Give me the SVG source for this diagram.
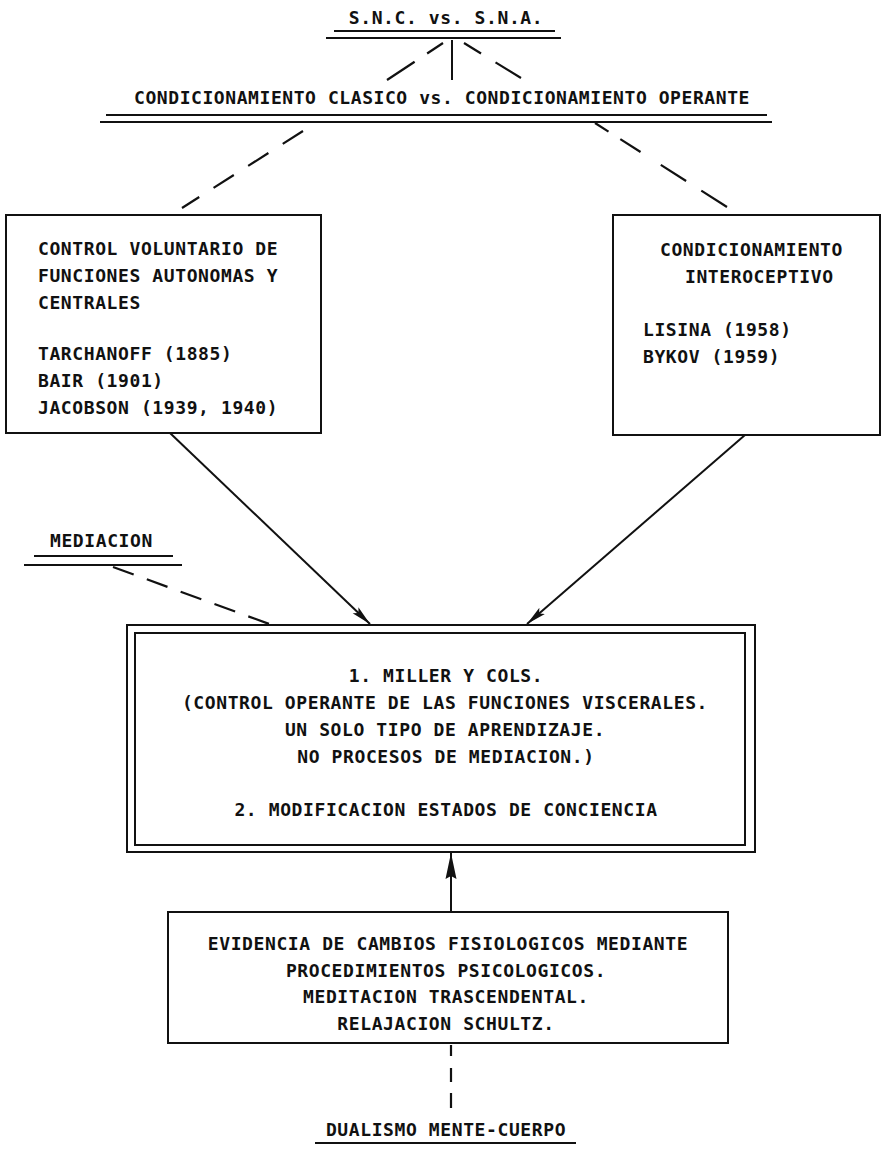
<svg xmlns="http://www.w3.org/2000/svg" width="882" height="1150" viewBox="0 0 882 1150">
<style>
text{font-family:"DejaVu Sans Mono","Liberation Mono",monospace;font-weight:bold;font-size:18px;fill:#111;letter-spacing:0.6px}
.c{text-anchor:middle}
.box{fill:none;stroke:#111;stroke-width:2}
.ul{stroke:#111;stroke-width:2}
.sol{stroke:#111;stroke-width:2;fill:none}
.dash{stroke:#111;stroke-width:2.2;fill:none}
</style>
<defs>
<marker id="ah" markerUnits="userSpaceOnUse" markerWidth="20" markerHeight="10" refX="20" refY="5" orient="auto">
<path d="M0,0.8 L20,5 L0,9.2 L4,5 z" fill="#111"/>
</marker>
<marker id="ahUp" markerUnits="userSpaceOnUse" markerWidth="26" markerHeight="12" refX="26" refY="6" orient="auto">
<path d="M0,0.5 L26,6 L0,11.5 L3,6 z" fill="#111"/>
</marker>
</defs>
<rect width="882" height="1150" fill="#fff"/>

<g id="connectors">
<line class="sol" x1="452" y1="40" x2="452" y2="80"/>
<line class="dash" x1="443" y1="43" x2="387" y2="80" stroke-dasharray="19 15 40"/>
<line class="dash" x1="464" y1="43" x2="521" y2="78" stroke-dasharray="20 17 40"/>
<line class="dash" x1="303" y1="131" x2="182" y2="208" stroke-dasharray="24 17"/>
<line class="dash" x1="595" y1="123" x2="727" y2="207" stroke-dasharray="16 14 24 24 30 18 40"/>
<line class="sol" x1="170" y1="433" x2="370" y2="624" marker-end="url(#ah)"/>
<line class="sol" x1="745" y1="435" x2="527" y2="624" marker-end="url(#ah)"/>
<line class="dash" x1="113" y1="567" x2="272" y2="625" stroke-dasharray="22 14"/>
<line class="sol" x1="451" y1="912" x2="451" y2="853" marker-end="url(#ahUp)"/>
<line class="dash" x1="451" y1="1045" x2="451" y2="1110" stroke-dasharray="11 12 14 11 15"/>
</g>

<g id="header-snc">
<text class="c" x="446" y="24">S.N.C. vs. S.N.A.</text>
<line class="ul" x1="334" y1="31" x2="555" y2="31"/>
<line class="ul" x1="326" y1="38" x2="561" y2="38"/>
</g>

<g id="header-condicionamiento">
<text x="134" y="104" textLength="616" lengthAdjust="spacing">CONDICIONAMIENTO CLASICO vs. CONDICIONAMIENTO OPERANTE</text>
<line class="ul" x1="106" y1="115" x2="767" y2="115"/>
<line class="ul" x1="100" y1="122" x2="772" y2="122"/>
</g>

<g id="box-control-voluntario">
<rect class="box" x="6" y="215" width="315" height="218"/>
<text x="38" y="255">CONTROL VOLUNTARIO DE</text>
<text x="38" y="282">FUNCIONES AUTONOMAS Y</text>
<text x="38" y="309">CENTRALES</text>
<text x="38" y="360">TARCHANOFF (1885)</text>
<text x="38" y="387">BAIR (1901)</text>
<text x="38" y="414">JACOBSON (1939, 1940)</text>
</g>

<g id="box-interoceptivo">
<rect class="box" x="613" y="215" width="267" height="220"/>
<text x="660" y="256">CONDICIONAMIENTO</text>
<text x="685" y="283">INTEROCEPTIVO</text>
<text x="643" y="336">LISINA (1958)</text>
<text x="643" y="363">BYKOV (1959)</text>
</g>

<g id="mediacion">
<text x="50" y="547">MEDIACION</text>
<line class="ul" x1="34" y1="556" x2="173" y2="556"/>
<line class="ul" x1="24" y1="565" x2="182" y2="565"/>
</g>

<g id="box-miller">
<rect class="box" x="127" y="625" width="628" height="227"/>
<rect class="box" x="135" y="633" width="610" height="212"/>
<text class="c" x="446" y="682">1. MILLER Y COLS.</text>
<text class="c" x="445" y="709">(CONTROL OPERANTE DE LAS FUNCIONES VISCERALES.</text>
<text class="c" x="445" y="736">UN SOLO TIPO DE APRENDIZAJE.</text>
<text class="c" x="446" y="763">NO PROCESOS DE MEDIACION.)</text>
<text class="c" x="446" y="816">2. MODIFICACION ESTADOS DE CONCIENCIA</text>
</g>

<g id="box-evidencia">
<rect class="box" x="168" y="912" width="560" height="131"/>
<text class="c" x="448" y="950">EVIDENCIA DE CAMBIOS FISIOLOGICOS MEDIANTE</text>
<text class="c" x="446" y="977">PROCEDIMIENTOS PSICOLOGICOS.</text>
<text class="c" x="446" y="1003">MEDITACION TRASCENDENTAL.</text>
<text class="c" x="446" y="1030">RELAJACION SCHULTZ.</text>
</g>

<g id="dualismo">
<text class="c" x="446" y="1136">DUALISMO MENTE-CUERPO</text>
<line class="ul" x1="315" y1="1143" x2="576" y2="1143"/>
</g>
</svg>
